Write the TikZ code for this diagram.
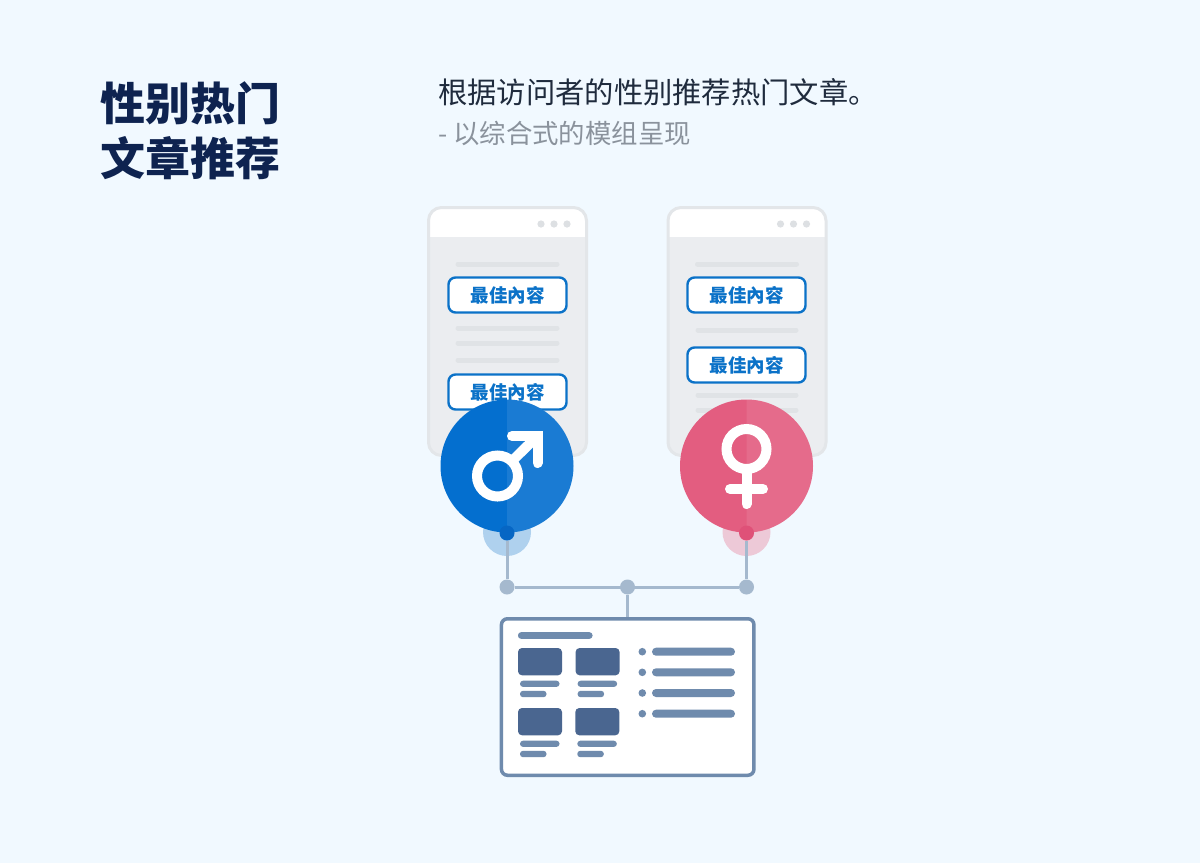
\documentclass[tikz,border=0pt]{standalone}
\usepackage{fontspec}
\setmainfont{Noto Sans CJK SC}
\newfontfamily\cjk{Noto Sans CJK SC}
\pgfdeclarelayer{back}
\pgfdeclarelayer{mid}
\pgfsetlayers{back,mid,main}
\definecolor{pagebg}{HTML}{F1F9FF}
\definecolor{titlecol}{HTML}{0E2350}
\definecolor{subcol}{HTML}{1F2B3D}
\definecolor{graycol}{HTML}{8A929C}
\definecolor{winbody}{HTML}{EBEDF0}
\definecolor{winedge}{HTML}{E3E6E9}
\definecolor{winline}{HTML}{E0E3E6}
\definecolor{windot}{HTML}{DDE0E3}
\definecolor{btnblue}{HTML}{0B72C8}
\definecolor{maleblue}{HTML}{046FCF}
\definecolor{malehalo}{HTML}{AFD1EE}
\definecolor{maledot}{HTML}{0666C4}
\definecolor{femalepink}{HTML}{E35D80}
\definecolor{femalehalo}{HTML}{EDC9D7}
\definecolor{femaledot}{HTML}{DF5178}
\definecolor{linkcol}{HTML}{A5B9CE}
\definecolor{panelcol}{HTML}{6F8BAD}
\definecolor{thumbcol}{HTML}{4A6690}
\tikzset{
  px/.style={x=1pt,y=-1pt},
  dotnode/.style={circle,inner sep=0pt,minimum size=#1},
  btn/.style={draw=btnblue,line width=2.4pt,fill=white,rounded corners=7pt,minimum width=118pt,minimum height=35pt,inner sep=0pt,text=btnblue,font=\fontsize{18.5}{18.5}\selectfont\bfseries},
  winline/.style={draw=winline,line width=5pt,line cap=round},
  panelbar/.style={fill=panelcol,rounded corners=3pt},
  thumb/.style={fill=thumbcol,rounded corners=4pt},
  link/.style={draw=linkcol,line width=3pt},
  glyph/.style={draw=white,line width=10pt,line cap=round,line join=miter},
}
\newcommand{\browser}[1]{%
  \begin{scope}[shift={(#1,0)}]
    \fill[winbody,rounded corners=13pt] (428,207) rectangle (587,456);
    \begin{scope}
      \clip (420,200) rectangle (600,236);
      \fill[white,rounded corners=13pt] (428,207) rectangle (587,300);
    \end{scope}
    \draw[winedge,line width=3pt,rounded corners=13pt] (428.5,207.5) rectangle (586.5,455.5);
    \foreach \dx in {541,554,567} \fill[windot] (\dx,224) circle (3.6);
    \draw[winline] (458,264) -- (557,264);
  \end{scope}}
\begin{document}
\begin{tikzpicture}[px]
\useasboundingbox (0,0) rectangle (1200,863);
\begin{pgfonlayer}{back}
  \fill[pagebg] (0,0) rectangle (1200,863);
  \node[dotnode=48pt,fill=malehalo] (mh) at (507,532) {};
  \node[dotnode=48pt,fill=femalehalo] (fh) at (746.5,532) {};
\end{pgfonlayer}

\node[anchor=west,inner sep=0pt,text=titlecol,font=\fontsize{45}{45}\selectfont\bfseries] (t1) at (100,103) {性别热门};
\node[anchor=west,inner sep=0pt,text=titlecol,font=\fontsize{45}{45}\selectfont\bfseries] (t2) at (100,158) {文章推荐};
\node[anchor=west,inner sep=0pt,text=subcol,font=\fontsize{29.3}{29.3}\selectfont] (s1) at (438,92) {根据访问者的性别推荐热门文章。};
\node[anchor=west,inner sep=0pt,text=graycol,font=\fontsize{26.4}{26.4}\selectfont] (s2) at (438,133) {- 以综合式的模组呈现};

% browsers
\browser{0}
\draw[winline] (458,328) -- (557,328);
\draw[winline] (458,343) -- (557,343);
\draw[winline] (458,360) -- (557,360);
\node[btn] (la) at (507.5,295) {最佳內容};
\node[btn] (lb) at (507.5,392) {最佳內容};

\browser{239.5}
\draw[winline] (698,330) -- (796,330);
\draw[winline] (698,395) -- (796,395);
\draw[winline] (698,410) -- (796,410);
\node[btn] (ra) at (746.5,295) {最佳內容};
\node[btn] (rb) at (746.5,365) {最佳內容};

% male
\node[dotnode=133pt,fill=maleblue] (mc) at (507,466) {};
\begin{scope}
  \clip (507,390) rectangle (580,540);
  \fill[white,opacity=.09] (507,466) circle (66.5);
\end{scope}
\draw[glyph] (512,436) -- (537.5,436) -- (537.5,463);
\draw[glyph] (512,461) -- (537.5,436);
\draw[draw=white,line width=10pt] (497.5,476) circle (20.5);
\node[dotnode=15pt,fill=maledot] (md) at (507,533) {};

% female
\node[dotnode=133pt,fill=femalepink] (fc) at (746.5,466) {};
\begin{scope}
  \clip (746.5,390) rectangle (820,540);
  \fill[white,opacity=.09] (746.5,466) circle (66.5);
\end{scope}
\draw[glyph] (746.5,470) -- (746.5,504);
\draw[glyph] (730,489) -- (763,489);
\draw[draw=white,line width=10pt] (746.5,449) circle (20);
\node[dotnode=15pt,fill=femaledot] (fd) at (746.5,533) {};

% junctions and panel
\node[dotnode=15pt,fill=linkcol] (j1) at (507,587) {};
\node[dotnode=15pt,fill=linkcol] (j2) at (627.5,587) {};
\node[dotnode=15pt,fill=linkcol] (j3) at (746.5,587) {};
\node[draw=panelcol,fill=white,line width=3.5pt,rounded corners=6pt,minimum width=252.5pt,minimum height=156.5pt,inner sep=0pt] (panel) at (627.7,697) {};

\begin{pgfonlayer}{mid}
  \draw[link] (md) -- (j1);
  \draw[link] (fd) -- (j3);
  \draw[link] (j1) -- (j3);
  \draw[link] (j2) -- (j2 |- panel.north);
\end{pgfonlayer}

% panel contents
\fill[panelbar] (518,632.2) rectangle (592.5,638.8);
\foreach \xa/\ya in {518/648,575.6/648,518/708,575.3/708}{
  \fill[thumb] (\xa,\ya) rectangle ++(44,27.3);
  \fill[panelbar] (\xa+2,\ya+32.7) rectangle ++(39.5,6.2);
  \fill[panelbar] (\xa+2,\ya+42.8) rectangle ++(26.5,6.4);
}
\foreach \yy in {651.7,672.3,693,713.7}{
  \fill[panelcol] (642.3,\yy) circle (3.8);
  \fill[panelcol,rounded corners=4pt] (652,\yy-4) rectangle (735,\yy+4);
}
\end{tikzpicture}
\end{document}
